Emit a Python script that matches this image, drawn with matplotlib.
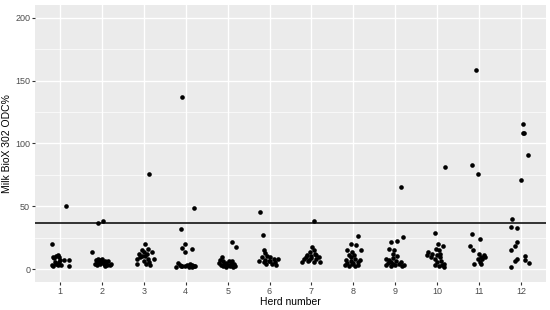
import matplotlib
matplotlib.use("Agg")
import matplotlib.pyplot as plt
import numpy as np

plt.rcParams['font.family'] = ['Liberation Sans', 'DejaVu Sans']

# herd -> (jitter offset, ODC%)
herd_1 = [(-0.2, 20.5), (-0.18, 9.8), (-0.15, 9.3), (-0.1, 10.5), (-0.05, 11.7), (-0.02, 9.5),
          (0.0, 7.5), (-0.12, 6.0), (-0.2, 3.2), (-0.16, 2.8), (-0.1, 4.2), (-0.06, 3.6),
          (-0.02, 5.8), (0.03, 3.5), (0.1, 7.7), (0.2, 7.7), (0.21, 2.6), (0.15, 50.5)]
herd_2 = [(-0.23, 13.8), (-0.1, 36.9), (0.02, 38.8), (-0.15, 7.7), (-0.1, 8.5), (-0.05, 7.2),
          (0.0, 8.0), (0.07, 7.0), (-0.17, 4.5), (-0.12, 3.2), (-0.06, 4.0), (0.0, 5.8),
          (0.05, 4.5), (0.1, 5.8), (0.12, 3.5), (0.18, 3.2), (0.21, 4.0), (-0.13, 5.8),
          (-0.08, 5.0), (0.15, 6.5), (0.08, 2.8)]
herd_3 = [(0.03, 20.5), (-0.05, 15.2), (0.0, 14.0), (-0.12, 12.5), (0.08, 12.5), (0.2, 13.8),
          (-0.1, 9.8), (0.02, 10.5), (0.1, 8.5), (-0.16, 8.5), (-0.05, 11.0), (0.12, 5.8),
          (-0.16, 4.5), (0.06, 4.5), (0.15, 3.2), (0.23, 8.5), (0.0, 7.0), (0.1, 16.0),
          (0.12, 75.7)]
herd_4 = [(-0.1, 136.6), (0.2, 48.9), (-0.12, 32.1), (-0.02, 20.2), (-0.08, 17.0), (-0.03, 13.8),
          (0.15, 16.2), (-0.24, 1.9), (-0.18, 5.0), (-0.14, 3.6), (-0.08, 3.0), (-0.03, 2.4),
          (0.04, 3.2), (0.08, 2.2), (0.12, 3.0), (0.16, 2.0), (0.2, 2.5), (0.1, 4.5),
          (0.14, 3.4), (-0.12, 2.5), (0.22, 2.8)]
herd_5 = [(0.1, 22.1), (0.2, 17.8), (-0.14, 9.8), (-0.18, 7.2), (-0.12, 6.5), (-0.05, 5.0),
          (0.02, 6.5), (0.1, 7.0), (0.14, 4.5), (-0.17, 3.2), (-0.1, 2.4), (-0.03, 1.8),
          (0.05, 2.6), (0.12, 2.0), (-0.08, 4.2), (0.0, 3.6), (0.18, 2.8), (0.07, 4.0),
          (-0.2, 4.8)]
herd_6 = [(-0.22, 45.7), (-0.15, 27.1), (-0.13, 15.2), (-0.1, 13.0), (-0.06, 11.0), (-0.17, 9.8),
          (0.02, 9.8), (0.1, 8.5), (-0.25, 6.4), (-0.13, 5.8), (-0.02, 6.4), (0.05, 4.5),
          (0.15, 3.2), (0.2, 8.5), (-0.08, 4.5), (-0.1, 7.5), (0.02, 7.0), (0.12, 5.5)]
herd_7 = [(0.05, 38.5), (0.02, 17.8), (0.05, 15.2), (-0.03, 13.8), (0.08, 12.5), (-0.1, 11.2),
          (0.0, 10.5), (-0.18, 8.5), (0.12, 8.0), (-0.05, 7.2), (-0.22, 5.8), (0.05, 5.8),
          (0.2, 5.8), (-0.14, 9.5), (-0.02, 9.0), (0.17, 10.0), (0.1, 11.5), (-0.08, 6.5)]
herd_8 = [(0.12, 26.5), (-0.06, 20.5), (0.06, 19.7), (0.18, 15.7), (-0.15, 15.2), (-0.04, 14.0),
          (-0.1, 11.2), (0.02, 11.2), (-0.18, 7.7), (-0.06, 9.8), (0.05, 8.5), (0.15, 7.7),
          (-0.15, 5.0), (-0.03, 4.2), (0.05, 2.4), (-0.2, 3.2), (-0.1, 2.6), (0.0, 5.0),
          (0.1, 5.8), (-0.05, 7.0), (0.12, 3.5)]
herd_9 = [(0.13, 65.6), (0.19, 25.8), (0.05, 22.6), (-0.11, 21.8), (-0.15, 16.5), (-0.03, 15.2),
          (-0.06, 11.9), (-0.22, 8.5), (-0.15, 7.5), (-0.05, 9.0), (0.03, 7.0), (0.13, 5.8),
          (-0.22, 3.2), (-0.1, 3.0), (0.0, 3.2), (0.17, 3.0), (-0.06, 4.5), (0.08, 4.2),
          (-0.18, 4.8), (-0.1, 6.0), (0.05, 11.0), (0.2, 3.6)]
herd_10 = [(0.2, 81.6), (-0.05, 29.2), (0.02, 20.5), (0.15, 18.6), (-0.03, 16.5), (0.05, 15.2),
           (-0.22, 13.8), (-0.23, 11.2), (-0.12, 12.5), (-0.01, 11.2), (-0.05, 8.5), (0.07, 9.5),
           (0.0, 5.8), (0.1, 7.0), (0.17, 4.5), (-0.04, 3.2), (0.05, 2.4), (0.17, 1.9),
           (0.12, 3.6), (-0.15, 9.8), (0.08, 12.0)]
herd_11 = [(-0.07, 158.7), (-0.17, 82.9), (-0.03, 75.7), (-0.16, 27.9), (0.02, 24.2), (-0.21, 18.3),
           (-0.14, 15.7), (0.0, 12.0), (0.12, 11.2), (0.05, 9.8), (-0.03, 8.5), (0.08, 8.0),
           (0.03, 5.8), (-0.12, 4.0), (0.06, 4.5), (0.15, 10.0)]
herd_12 = [(0.05, 115.6), (0.06, 108.7), (0.08, 108.7), (0.17, 90.9), (0.0, 71.0), (-0.2, 40.4),
           (-0.23, 33.7), (-0.09, 33.0), (-0.1, 22.0), (-0.13, 18.3), (-0.23, 15.2), (-0.1, 8.5),
           (-0.14, 6.6), (-0.24, 1.9), (0.1, 10.6), (0.1, 7.7), (0.2, 4.8)]

herds = [herd_1, herd_2, herd_3, herd_4, herd_5, herd_6,
         herd_7, herd_8, herd_9, herd_10, herd_11, herd_12]
herd_labels = [str(i) for i in range(1, 13)]
cutoff = 37

fig = plt.figure(figsize=(5.5, 3.1), dpi=100)
# panel edges: x 35..546, y 5..282 px
ax = fig.add_axes([35 / 550, 28 / 310, 511 / 550, 277 / 310])
ax.set_facecolor('#EBEBEB')

for i, pts in enumerate(herds):
    pts = np.array(pts)
    ax.scatter(i + 1 + pts[:, 0], pts[:, 1], s=11, color='black', zorder=3, linewidths=0)

ax.axhline(cutoff, color='black', lw=1.1, zorder=4)

ax.set_xlim(0.4, 12.6)
ax.set_ylim(-10, 210)
ax.set_xticks(range(1, 13))
ax.set_xticklabels(herd_labels)
ax.set_yticks([0, 50, 100, 150, 200])
ax.set_yticks([25, 75, 125, 175], minor=True)
ax.grid(True, which='major', color='white', lw=1.0, zorder=0)
ax.grid(True, which='minor', axis='y', color='white', lw=0.5, zorder=0)
ax.set_axisbelow(True)
for s in ax.spines.values():
    s.set_visible(False)
ax.tick_params(which='major', length=2, color='#333333', labelsize=6.5, labelcolor='#4D4D4D', pad=1.5)
ax.tick_params(which='minor', length=0)

ax.set_xlabel('Herd number', fontsize=7.5, labelpad=1)
ax.set_ylabel('Milk BioX 302 ODC%', fontsize=7.5, labelpad=2)

fig.savefig('out.png', dpi=100)
